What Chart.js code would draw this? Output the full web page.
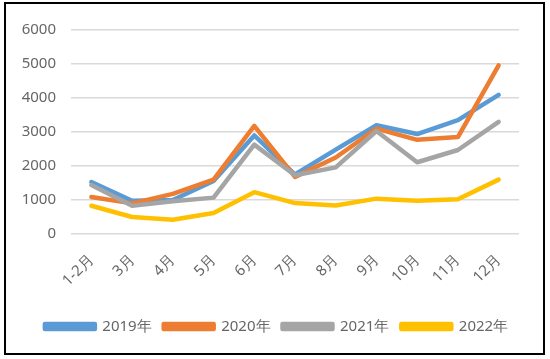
<!DOCTYPE html>
<html>
<head>
<meta charset="utf-8">
<script src="https://cdn.jsdelivr.net/npm/chart.js@4/dist/chart.umd.min.js"></script>
<style>
    html, body { margin: 0; padding: 0; background: #fff; }
    .frame {
        position: absolute;
        left: 4px;
        top: 2px;
        width: 537px;
        height: 349px;
        border: 2px solid #000;
        background: #fff;
    }
    .frame canvas { display: block; }
</style>
</head>
<body>
<div class="frame"><canvas id="chart" width="537" height="349"></canvas></div>
<script>
const months = ["1-2月", "3月", "4月", "5月", "6月", "7月", "8月", "9月", "10月", "11月", "12月"];
const yearLabels = ["2019年", "2020年", "2021年", "2022年"];
const v2019 = [1530, 980, 1000, 1560, 2900, 1750, 2480, 3200, 2940, 3350, 4090];
const v2020 = [1090, 900, 1180, 1600, 3180, 1680, 2250, 3100, 2770, 2850, 4960];
const v2021 = [1440, 830, 960, 1070, 2630, 1730, 1960, 3030, 2110, 2470, 3300];
const v2022 = [830, 500, 420, 620, 1230, 910, 840, 1040, 980, 1020, 1600];
const colors = ["#5B9BD5", "#ED7D31", "#A5A5A5", "#FFC000"];

function makeLine(label, data, color, order) {
    return {
        label: label,
        data: data,
        borderColor: color,
        backgroundColor: color,
        borderWidth: 4.5,
        borderJoinStyle: "round",
        borderCapStyle: "round",
        pointRadius: 0,
        tension: 0,
        order: order,
    };
}

const labelFont = { family: "'Noto Sans', sans-serif", size: 15 };

// legend in the picture sits centred on the frame, not on the padded box
const shiftLegend = {
    id: "shiftLegend",
    afterLayout(chart) {
        chart.legend.left += 14;
        chart.legend.right += 14;
    },
};

new Chart(document.querySelector("#chart"), {
    type: "line",
    data: {
        labels: months,
        datasets: [
            makeLine(yearLabels[0], v2019, colors[0], 4),
            makeLine(yearLabels[1], v2020, colors[1], 3),
            makeLine(yearLabels[2], v2021, colors[2], 2),
            makeLine(yearLabels[3], v2022, colors[3], 1),
        ],
    },
    plugins: [shiftLegend],
    options: {
        responsive: false,
        animation: false,
        layout: { padding: { left: 0, right: 24, top: 26, bottom: 9 } },
        plugins: {
            tooltip: { enabled: false },
            legend: {
                position: "bottom",
                labels: {
                    boxWidth: 50,
                    boxHeight: 5,
                    padding: 12,
                    color: "#666",
                    font: labelFont,
                    sort: (a, b) => a.datasetIndex - b.datasetIndex,
                },
            },
        },
        scales: {
            x: {
                offset: true,
                grid: { display: false },
                border: { display: false },
                ticks: {
                    color: "#666",
                    font: labelFont,
                    minRotation: 45,
                    maxRotation: 45,
                    padding: 9,
                },
                afterFit: (scale) => { scale.height = 73; },
            },
            y: {
                min: 0,
                max: 6000,
                grid: { color: "#d9d9d9", lineWidth: 1.5, drawTicks: false },
                border: { display: false },
                ticks: {
                    stepSize: 1000,
                    color: "#666",
                    font: labelFont,
                    padding: 15,
                    callback: (v) => String(v),
                },
                afterFit: (scale) => { scale.width = 65; },
            },
        },
    },
});
</script>
</body>
</html>
